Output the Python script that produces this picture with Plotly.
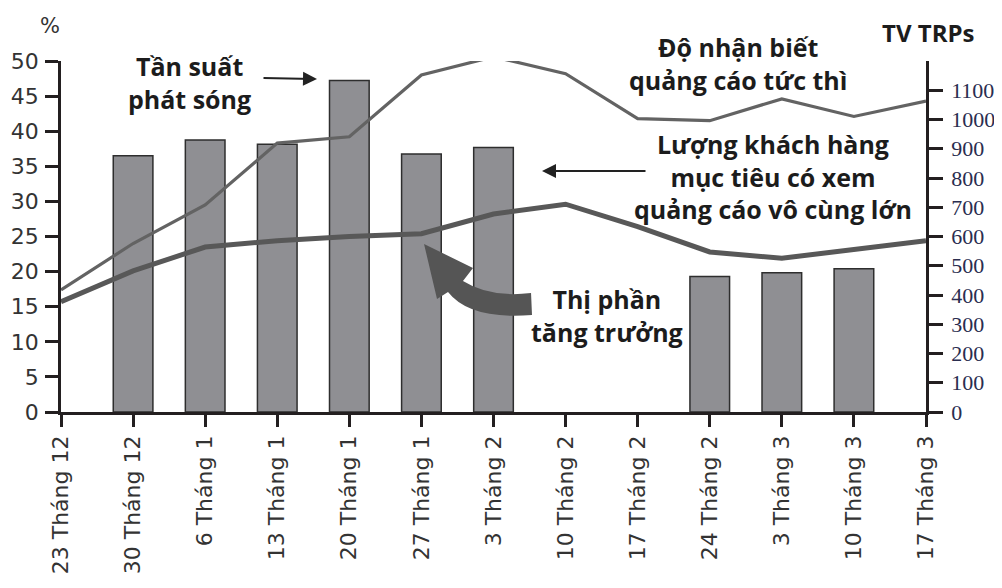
import plotly.graph_objects as go

dates = ["23 Tháng 12", "30 Tháng 12", "6 Tháng 1", "13 Tháng 1", "20 Tháng 1",
         "27 Tháng 1", "3 Tháng 2", "10 Tháng 2", "17 Tháng 2", "24 Tháng 2",
         "3 Tháng 3", "10 Tháng 3", "17 Tháng 3"]
tv_trps = [None, 876, 930, 915, 1133, 882, 904, None, None, 463, 476, 490, None]
awareness = [17.4, 24.0, 29.5, 38.3, 39.2, 48.0, 50.6, 48.2, 41.8, 41.5, 44.6, 42.1, 44.3]
share = [15.7, 20.1, 23.5, 24.4, 25.0, 25.4, 28.2, 29.6, 26.4, 22.8, 21.9, 23.1, 24.4]

# page has an 8px body margin, so the figure is drawn 8px lower/right
OFF = 8
W, H = 1002 - OFF, 588 - OFF
L, R, T, B = 61 - OFF, 76, 61 - OFF, 176
AXIS = "#231f20"


def paper(x, y):
    # pixel position on the page -> paper coordinates
    x, y = x - OFF, y - OFF
    return (x - L) / (W - L - R), (H - B - y) / (H - T - B)


fig = go.Figure()
fig.add_trace(go.Bar(x=dates, y=tv_trps, width=0.55, yaxis="y",
                     marker=dict(color="#8f8f93", line=dict(color="#2e2e2e", width=1.5))))
fig.add_trace(go.Scatter(x=dates, y=awareness, yaxis="y2", mode="lines",
                         line=dict(color="#636363", width=3.2)))
fig.add_trace(go.Scatter(x=dates, y=share, yaxis="y2", mode="lines",
                         line=dict(color="#585858", width=5)))

bold = dict(family="Open Sans", size=25, color="#1c1c1c")
notes = [
    ("Tần suất<br>phát sóng", 189, 82, bold),
    ("Độ nhận biết<br>quảng cáo tức thì", 738, 63, bold),
    ("Lượng khách hàng<br>mục tiêu có xem<br>quảng cáo vô cùng lớn", 773, 176, bold),
    ("Thị phần<br>tăng trưởng", 607, 315, bold),
    ("<b>TV TRPs</b>", 928, 33, dict(family="Open Sans", size=24, color="#1c1c1c")),
    ("%", 50, 26, dict(family="DejaVu Sans", size=21, color="#333333")),
]
anns = []
for text, x, y, f in notes:
    px_, py_ = paper(x, y)
    if f is bold:
        text = "<b>" + text.replace("<br>", "</b><br><b>") + "</b>"
    anns.append(dict(text=text, x=px_, y=py_, xref="paper", yref="paper",
                     showarrow=False, font=f, xanchor="center", yanchor="middle"))

# straight arrows
for tip, tail in [((317, 79), (262, 78)), ((542, 171), (647, 171))]:
    tx, ty = paper(*tip)
    anns.append(dict(text="", x=tx, y=ty, xref="paper", yref="paper", showarrow=True,
                     ax=tail[0] - tip[0], ay=tail[1] - tip[1], arrowhead=2, arrowsize=1.4,
                     arrowwidth=2, arrowcolor="#222222", standoff=0))

# curved thick arrow
pts = {k: paper(*v) for k, v in {
    "tip": (424, 244), "rw": (473, 268), "nu": (463, 281), "cu": (490, 298),
    "tu": (531, 293), "tl": (532, 315), "cl": (470, 320), "nl": (448, 292), "lw": (437, 299)}.items()}
p = lambda k: f"{pts[k][0]:.4f},{pts[k][1]:.4f}"
path = (f"M {p('tip')} L {p('rw')} L {p('nu')} Q {p('cu')} {p('tu')} "
        f"L {p('tl')} Q {p('cl')} {p('nl')} L {p('lw')} Z")
shapes = [dict(type="path", path=path, xref="paper", yref="paper",
               fillcolor="#555555", line=dict(width=0))]

fig.update_layout(
    width=W, height=H, margin=dict(l=L, r=R, t=T, b=B),
    plot_bgcolor="white", paper_bgcolor="white", showlegend=False,
    annotations=anns, shapes=shapes,
    xaxis=dict(type="category", range=[0, 12], tickangle=-90, ticks="outside", ticklen=12,
               tickwidth=2.5, tickcolor=AXIS, showline=True, linecolor=AXIS, linewidth=2.5,
               showgrid=False, automargin=False,
               tickfont=dict(family="DejaVu Sans", size=22, color="#333333")),
    yaxis=dict(side="right", range=[0, 1200], tickvals=list(range(0, 1200, 100)),
               ticks="outside", ticklen=14, tickwidth=2.5, tickcolor=AXIS, showline=True,
               linecolor=AXIS, linewidth=2.5, showgrid=False, zeroline=False,
               ticklabelstandoff=4, automargin=False,
               tickfont=dict(family="Liberation Serif", size=22, color="#2a2d4f")),
    yaxis2=dict(overlaying="y", side="left", range=[0, 50], dtick=5, ticks="outside",
                ticklen=13, tickwidth=2.5, tickcolor=AXIS, showline=True, linecolor=AXIS,
                linewidth=2.5, showgrid=False, zeroline=False, ticklabelstandoff=2,
                automargin=False,
                tickfont=dict(family="DejaVu Sans", size=22, color="#333333")),
)

fig.write_html("out.html")
